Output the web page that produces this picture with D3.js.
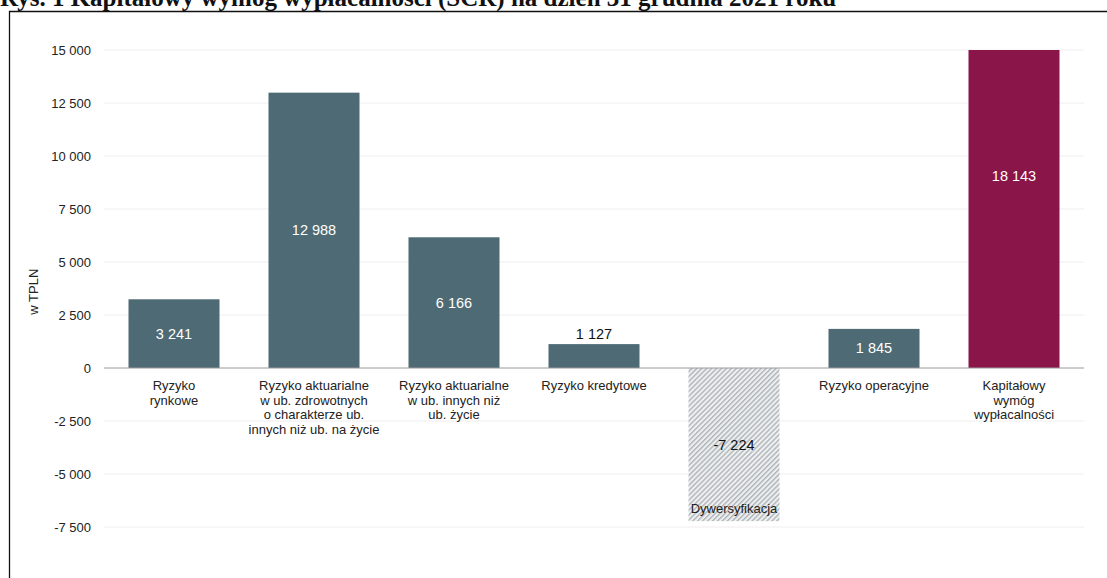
<!DOCTYPE html>
<html>
<head>
<meta charset="utf-8">
<script src="https://cdn.jsdelivr.net/npm/d3@7"></script>
<style>
  body { margin: 0; background: #fff; }
  svg { display: block; font-family: "Liberation Sans", Arial, sans-serif; }
</style>
</head>
<body>
<svg width="1107" height="578"></svg>
<script>
// Dane wykresu
const categories = [
    ["Ryzyko", "rynkowe"],
    ["Ryzyko aktuarialne", "w ub. zdrowotnych", "o charakterze ub.", "innych niż ub. na życie"],
    ["Ryzyko aktuarialne", "w ub. innych niż", "ub. życie"],
    ["Ryzyko kredytowe"],
    ["Dywersyfikacja"],
    ["Ryzyko operacyjne"],
    ["Kapitałowy", "wymóg", "wypłacalności"]
];
const values = [3241, 12988, 6166, 1127, -7224, 1845, 18143];
const kinds = ["risk", "risk", "risk", "risk", "div", "risk", "total"];
const valueLabels = ["3 241", "12 988", "6 166", "1 127", "-7 224", "1 845", "18 143"];
const yTicks = [-7500, -5000, -2500, 0, 2500, 5000, 7500, 10000, 12500, 15000];

const svg = d3.select("svg");

//Tytuł (ucięty u góry, jak na oryginale)
svg.append("text")
    .attr("x", 0)
    .attr("y", 6)
    .attr("font-family", "Liberation Serif, Times New Roman, serif")
    .attr("font-weight", "bold")
    .attr("font-size", 25)
    .attr("fill", "#111")
    .text("Rys. 1 Kapitałowy wymóg wypłacalności (SCR) na dzień 31 grudnia 2021 roku");

//Ramka
svg.append("path")
    .attr("d", "M9.5,578 V11.5 H1107")
    .attr("fill", "none")
    .attr("stroke", "#111")
    .attr("stroke-width", 1.3);

const left = 104, right = 1084;

const x = d3.scaleBand()
    .domain(d3.range(values.length))
    .range([left, right])
    .paddingInner(0.35)
    .paddingOuter(0.175);

const y = d3.scaleLinear()
    .domain([-7500, 15000])
    .range([527, 50]);

// wersja przycięta do zakresu osi - do rysowania słupków
const yc = y.copy().clamp(true);

//Wzór kreskowania dla dywersyfikacji
const defs = svg.append("defs");
const pat = defs.append("pattern")
    .attr("id", "hatch")
    .attr("patternUnits", "userSpaceOnUse")
    .attr("width", 3.5)
    .attr("height", 3.5)
    .attr("patternTransform", "rotate(45)");
pat.append("rect").attr("width", 3.5).attr("height", 3.5).attr("fill", "#eef0f1");
pat.append("rect").attr("width", 1.4).attr("height", 3.5).attr("fill", "#aeb3b7");

//Linie siatki
const grid = svg.append("g");
grid.selectAll("line")
    .data(yTicks.filter(d => d !== 0))
    .enter()
    .append("line")
    .attr("x1", left)
    .attr("x2", right)
    .attr("y1", d => y(d))
    .attr("y2", d => y(d))
    .attr("stroke", "#eeeeee")
    .attr("stroke-width", 1);

//Oś Y
const fmt = d => d3.format(",")(d).replace(/,/g, " ").replace("−", "-");
const yAxis = svg.append("g")
    .attr("transform", `translate(${left},0)`)
    .call(d3.axisLeft(y).tickValues(yTicks).tickSize(0).tickPadding(13).tickFormat(fmt));
yAxis.select(".domain").remove();
yAxis.selectAll("text")
    .attr("font-size", 13)
    .attr("font-family", "Liberation Sans, Arial, sans-serif")
    .attr("fill", "#222");

svg.append("text")
    .attr("transform", `translate(38,${y(3600)}) rotate(-90)`)
    .attr("text-anchor", "middle")
    .attr("font-size", 13)
    .attr("fill", "#222")
    .text("w TPLN");

const colors = { risk: "#4e6a74", total: "#8a1548", div: "url(#hatch)" };

//Słupki
svg.selectAll("rect.bar")
    .data(values)
    .enter()
    .append("rect")
    .attr("class", "bar")
    .attr("x", (d, i) => x(i))
    .attr("width", x.bandwidth())
    .attr("y", d => yc(Math.max(0, d)))
    .attr("height", d => Math.abs(yc(d) - y(0)))
    .attr("fill", (d, i) => colors[kinds[i]]);

//Oś zero
svg.append("line")
    .attr("x1", left)
    .attr("x2", right)
    .attr("y1", y(0))
    .attr("y2", y(0))
    .attr("stroke", "#9a9a9a")
    .attr("stroke-width", 1);

//Etykiety wartości
svg.selectAll("text.val")
    .data(values)
    .enter()
    .append("text")
    .attr("class", "val")
    .attr("text-anchor", "middle")
    .attr("font-size", 14.5)
    .attr("x", (d, i) => x(i) + x.bandwidth() / 2)
    .attr("y", (d, i) => {
        const h = Math.abs(y(d) - y(0));
        if (h < 30 && d > 0) return y(d) - 5;   // mały słupek - etykieta nad
        return (y(d) + y(0)) / 2 + 5;
    })
    .attr("fill", (d, i) => {
        const h = Math.abs(y(d) - y(0));
        if (kinds[i] === "div" || h < 30) return "#111";
        return "#fff";
    })
    .text((d, i) => valueLabels[i]);

//Etykiety kategorii
const cat = svg.append("g");
categories.forEach((lines, i) => {
    const cx = x(i) + x.bandwidth() / 2;
    const neg = values[i] < 0;
    const t = cat.append("text")
        .attr("text-anchor", "middle")
        .attr("font-size", 13)
        .attr("fill", "#222");
    const y0 = neg ? yc(values[i]) - 8 : y(0) + 22;
    lines.forEach((s, k) => {
        t.append("tspan")
            .attr("x", cx)
            .attr("y", y0 + k * 14.5)
            .text(s);
    });
});
</script>
</body>
</html>
